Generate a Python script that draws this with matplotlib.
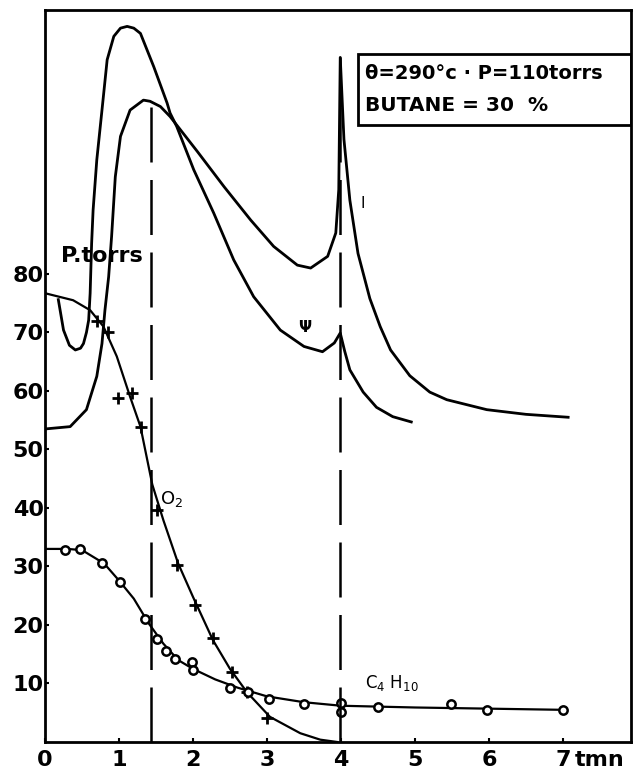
import numpy as np
import matplotlib
matplotlib.use('Agg')
import matplotlib.pyplot as plt
from matplotlib.patches import Rectangle

# O2 pressure (torrs) vs time (mn)
o2_t = [0, 0.38, 0.61, 0.79, 0.97, 1.15, 1.29, 1.45, 1.6, 1.8, 2.0, 2.27, 2.5, 2.73, 3.04, 3.45, 3.72, 3.95]
o2_p = [76.7, 75.5, 73.8, 71, 65.9, 59, 53.9, 44, 37.9, 30.5, 24.8, 17.4, 12.5, 8.5, 4.3, 1.5, 0.4, 0]
o2_pts_t = [0.7, 0.85, 0.99, 1.17, 1.3, 1.51, 1.78, 2.03, 2.27, 2.53, 2.73, 3.0]
o2_pts_p = [72, 70, 58.8, 59.6, 53.8, 39.7, 30.3, 23.4, 17.8, 12, 8.5, 4.1]

# C4H10
c4_t = [0, 0.3, 0.5, 0.8, 1.0, 1.2, 1.4, 1.6, 1.8, 2.0, 2.3, 2.6, 3.0, 3.5, 4.0, 5.0, 6.0, 7.0]
c4_p = [33, 33, 32.8, 30.5, 27.6, 24.5, 20.3, 16.8, 14, 12.5, 10.7, 9.3, 7.8, 6.8, 6.2, 5.9, 5.7, 5.5]
c4_pts_t = [0.27, 0.47, 0.77, 1.02, 1.35, 1.51, 1.64, 1.76, 1.98, 2.0, 2.5, 2.75, 3.03, 3.5, 4.0, 4.0, 4.5, 5.49, 5.97, 7.0]
c4_pts_p = [32.8, 33, 30.6, 27.4, 21, 17.6, 15.6, 14.2, 13.7, 12.3, 9.2, 8.5, 7.3, 6.5, 6.7, 5.1, 6, 6.5, 5.5, 5.5]

# recorder trace psi
psi_t = [0.18, 0.25, 0.33, 0.41, 0.48, 0.52, 0.56, 0.59, 0.61, 0.63, 0.65, 0.70, 0.77, 0.84, 0.93, 1.02, 1.11,
         1.2, 1.29, 1.47, 1.65, 1.69, 1.78, 2.01, 2.28, 2.55, 2.82, 3.18, 3.5, 3.75, 3.91, 3.99, 4.05, 4.12,
         4.3, 4.48, 4.7, 4.95]
psi_v = [75.6, 70.4, 67.8, 67, 67.3, 68.1, 70, 72.1, 76.7, 85.2, 90.9, 99.5, 108, 116.6, 120.6, 122, 122.3,
         122, 121.1, 115.4, 109.2, 107.5, 105.2, 97.8, 90.4, 82.4, 76.1, 70.4, 67.6, 66.7, 68.2, 69.9, 66.8, 63.6,
         59.8, 57.2, 55.6, 54.7]

# recorder trace I
i_t = [0, 0.34, 0.56, 0.70, 0.77, 0.81, 0.86, 0.90, 0.95, 1.02, 1.15, 1.33, 1.42, 1.56, 1.69, 2.06, 2.42,
       2.78, 3.09, 3.41, 3.59, 3.82, 3.93, 3.97, 3.99, 4.04, 4.12, 4.23, 4.39, 4.53, 4.67, 4.93, 5.2, 5.43,
       5.97, 6.5, 7.07]
i_v = [53.5, 53.9, 56.8, 62.5, 68.1, 73.8, 79.5, 86.4, 96.6, 103.5, 108, 109.7, 109.5, 108.6, 106.9, 100.9, 94.9,
       89.2, 84.7, 81.5, 81, 83, 87, 94.4, 117, 103, 92.6, 83.5, 75.8, 71, 67, 62.6, 59.8, 58.5,
       56.8, 56, 55.5]

x_ticks = [0, 1, 2, 3, 4, 5, 6, 7]
y_ticks = [10, 20, 30, 40, 50, 60, 70, 80]

dash1_x, dash1_top = 1.43, 109.5
dash2_x, dash2_top = 3.98, 117

fig = plt.figure(figsize=(6.33, 7.76), dpi=100)
ax = fig.add_axes([0.0711, 0.0438, 0.9258, 0.9433])
ax.set_xlim(0, 7.92)
ax.set_ylim(0, 125.1)

for s in ax.spines.values():
    s.set_linewidth(2)

ax.plot(psi_t, psi_v, color='black', lw=2)
ax.plot(i_t, i_v, color='black', lw=2)
ax.plot(o2_t, o2_p, color='black', lw=1.6)
ax.plot(c4_t, c4_p, color='black', lw=1.6)
ax.plot(o2_pts_t, o2_pts_p, ls='none', marker='+', ms=8, mew=2, color='black')
ax.plot(c4_pts_t, c4_pts_p, ls='none', marker='o', ms=6, mew=1.8, mfc='white', mec='black')

for x, top in [(dash1_x, dash1_top), (dash2_x, dash2_top)]:
    ax.plot([x, x], [0, top], color='black', lw=1.8, dashes=(22, 7))

ax.set_xticks(x_ticks)
ax.set_xticklabels([str(v) for v in x_ticks])
ax.set_yticks(y_ticks)
ax.set_yticklabels([str(v) for v in y_ticks])
ax.tick_params(direction='in', length=3, width=1.5, labelsize=16)
for lab in ax.get_xticklabels() + ax.get_yticklabels():
    lab.set_fontweight('bold')
ax.tick_params(axis='x', pad=6)
ax.tick_params(axis='y', pad=1)

ax.annotate('tmn', xy=(7.16, 0), xycoords=('data', 'axes fraction'), xytext=(0, -6),
            textcoords='offset points', ha='left', va='top', fontsize=16, fontweight='bold')

ax.text(0.22, 83, 'P.torrs', fontsize=16, fontweight='bold', va='center', ha='left')
ax.text(1.55, 41.5, r'O$_2$', fontsize=13, va='center', ha='left')
ax.text(4.32, 10, r'C$_4$ H$_{10}$', fontsize=12, va='center', ha='left')
ax.text(3.51, 70.8, 'Ψ', fontsize=11, fontweight='bold', va='center', ha='center')
ax.text(4.3, 92, 'I', fontsize=11, va='center', ha='center')

ax.add_patch(Rectangle((4.23, 105.4), 7.92 - 4.23, 117.6 - 105.4, fill=False, lw=2, ec='black'))
ax.text(4.33, 114.3, 'θ=290°c · P=110torrs', fontsize=14, fontweight='bold', va='center', ha='left')
ax.text(4.33, 108.8, 'BUTANE = 30  %', fontsize=14.5, fontweight='bold', va='center', ha='left')

fig.savefig('out.png', dpi=100)
